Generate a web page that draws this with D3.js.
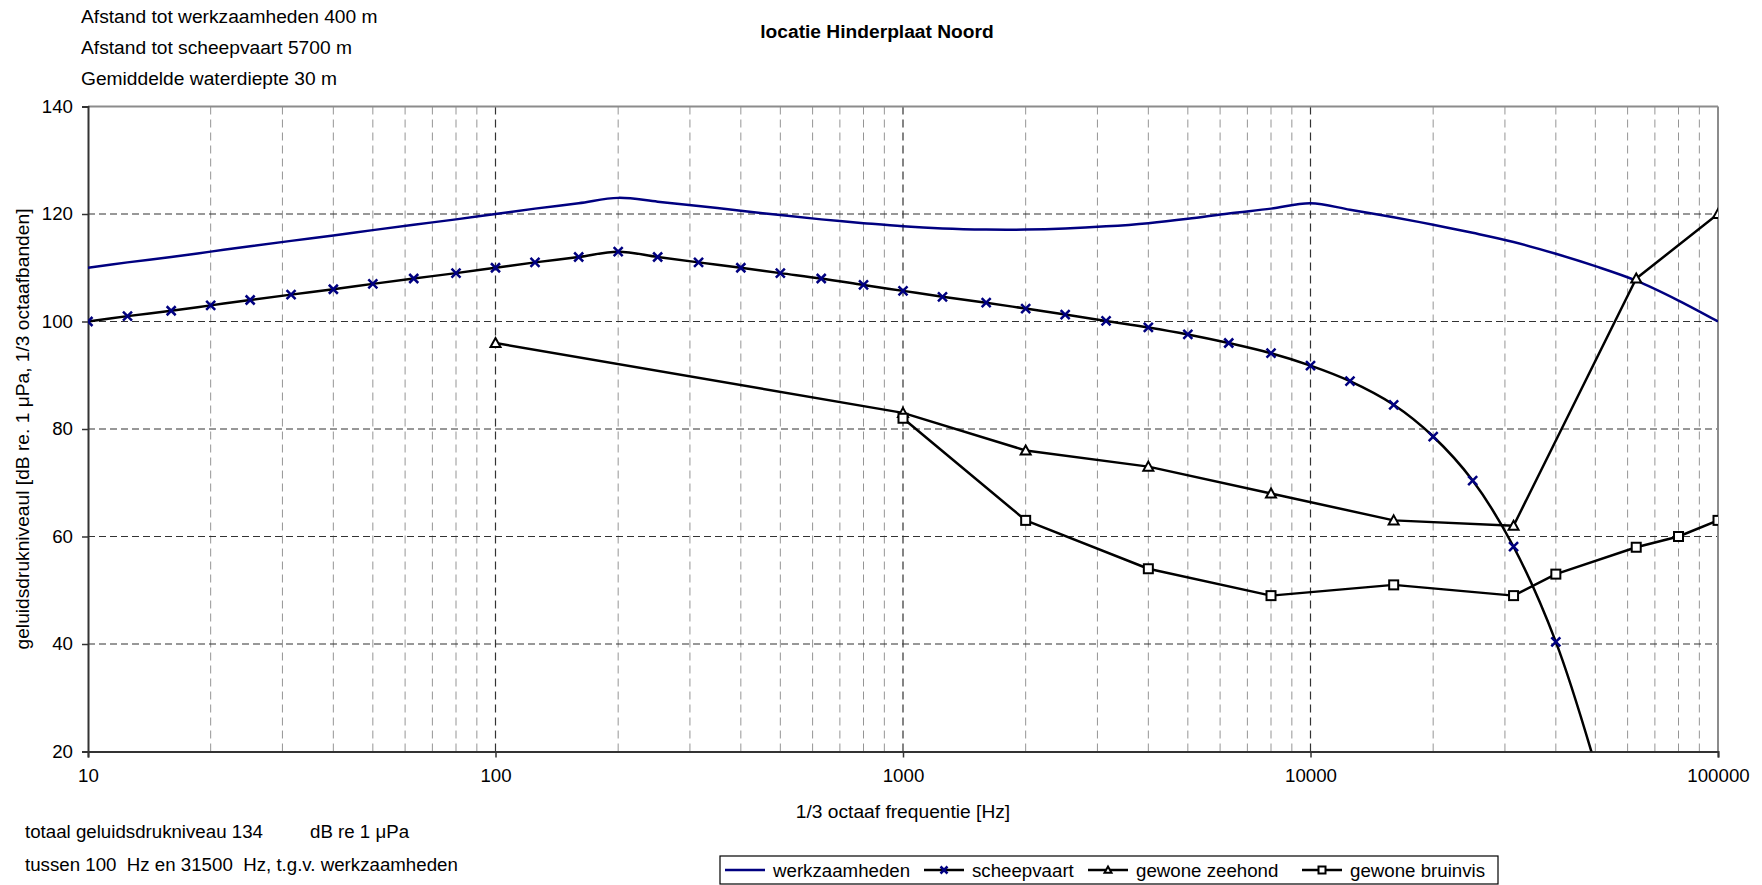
<!DOCTYPE html>
<html>
<head>
<meta charset="utf-8">
<script src="https://cdn.jsdelivr.net/npm/d3@7"></script>
<style>
  html, body { margin: 0; padding: 0; background: #fff; }
  svg { display: block; font-family: "Liberation Sans", Arial, sans-serif; }
  text { white-space: pre; }
</style>
</head>
<body>
<svg id="chart" width="1762" height="885"></svg>
<script>
// 1/3-octave band centre frequencies [Hz]
const bandFreqs = [10, 12.5, 16, 20, 25, 31.5, 40, 50, 63, 80,
  100, 125, 160, 200, 250, 315, 400, 500, 630, 800,
  1000, 1250, 1600, 2000, 2500, 3150, 4000, 5000, 6300, 8000,
  10000, 12500, 16000, 20000, 25000, 31500, 40000, 50000, 63000, 80000, 100000];

// sound pressure level of the works at 400 m [dB re 1 µPa]
const werkzaamheden = [110, 111, 112, 113, 114, 115, 116, 117, 118, 119,
  120, 121, 122, 123, 122.3, 121.5, 120.6, 119.8, 119.0, 118.3,
  117.7, 117.3, 117.1, 117.1, 117.3, 117.7, 118.3, 119.1, 120.1, 121.0,
  122.0, 120.8, 119.4, 118.0, 116.5, 114.8, 112.6, 110.3, 107.6, 103.9, 100];

// shipping noise at 5700 m
const scheepvaartFreqs = bandFreqs.slice(0, 38);
const scheepvaart = [100, 101, 102, 103, 104, 105, 106, 107, 108, 109,
  110, 111, 112, 113, 112, 111, 110, 109, 108, 106.8,
  105.7, 104.6, 103.5, 102.4, 101.3, 100.1, 98.9, 97.6, 96.0, 94.1,
  91.8, 88.9, 84.5, 78.6, 70.4, 58.1, 40.4, 17.5];

// hearing thresholds
const zeehondFreqs = [100, 1000, 2000, 4000, 8000, 16000, 31500, 63000, 100000];
const zeehond = [96, 83, 76, 73, 68, 63, 62, 108, 120];
const bruinvisFreqs = [1000, 2000, 4000, 8000, 16000, 31500, 40000, 63000, 80000, 100000];
const bruinvis = [82, 63, 54, 49, 51, 49, 53, 58, 60, 63];

const xTicks = [10, 100, 1000, 10000, 100000];
const yTicks = [20, 40, 60, 80, 100, 120, 140];

const seriesNames = ["werkzaamheden", "scheepvaart", "gewone zeehond", "gewone bruinvis"];

const TICK_FONT = 18.7;
const FONT = 19.2;
const NAVY = "#000080";

const svg = d3.select("#chart");
svg.append("rect").attr("width", 1762).attr("height", 885).attr("fill", "#fff");

const plot = { left: 88, right: 1718, top: 106.5, bottom: 751.5 };
const x = d3.scaleLog().domain([10, 100000]).range([plot.left, plot.right]);
const y = d3.scaleLinear().domain([20, 140]).range([plot.bottom, plot.top]);

// ---- gridlines ----
const grid = svg.append("g");
const minorX = [];
[10, 100, 1000, 10000].forEach(d => { for (let k = 2; k <= 9; k++) minorX.push(k * d); });
grid.selectAll(".minor").data(minorX).join("line")
  .attr("x1", d => x(d)).attr("x2", d => x(d))
  .attr("y1", plot.top).attr("y2", plot.bottom)
  .attr("stroke", "#959595").attr("stroke-width", 1).attr("stroke-dasharray", "8,5");
grid.selectAll(".majorx").data(xTicks.slice(1, -1)).join("line")
  .attr("x1", d => x(d)).attr("x2", d => x(d))
  .attr("y1", plot.top).attr("y2", plot.bottom)
  .attr("stroke", "#333").attr("stroke-width", 1.2).attr("stroke-dasharray", "8,5");
grid.selectAll(".majory").data(yTicks.slice(1, -1)).join("line")
  .attr("x1", plot.left).attr("x2", plot.right)
  .attr("y1", d => y(d)).attr("y2", d => y(d))
  .attr("stroke", "#333").attr("stroke-width", 1.2).attr("stroke-dasharray", "7,4");

// plot frame (top/right) in grey
svg.append("line").attr("x1", plot.left).attr("x2", plot.right).attr("y1", plot.top).attr("y2", plot.top)
  .attr("stroke", "#8c8c8c").attr("stroke-width", 2);
svg.append("line").attr("x1", plot.right).attr("x2", plot.right).attr("y1", plot.top).attr("y2", plot.bottom)
  .attr("stroke", "#8c8c8c").attr("stroke-width", 2);

// ---- axes ----
const yAxis = svg.append("g").attr("transform", `translate(${plot.left},0)`)
  .call(d3.axisLeft(y).tickValues(yTicks).tickFormat(d3.format("d")).tickSize(6).tickPadding(9));
const xAxis = svg.append("g").attr("transform", `translate(0,${plot.bottom})`)
  .call(d3.axisBottom(x).tickValues(xTicks).tickFormat(d3.format("d")).tickSize(6).tickPadding(11));
[yAxis, xAxis].forEach(a => {
  a.select(".domain").attr("stroke", "#333").attr("stroke-width", 2);
  a.selectAll(".tick line").attr("stroke", "#333").attr("stroke-width", 1.5);
  a.selectAll(".tick text").attr("fill", "#000")
    .style("font-family", '"Liberation Sans", Arial, sans-serif').style("font-size", TICK_FONT + "px");
});

// ---- series ----
svg.append("clipPath").attr("id", "plotClip").append("rect")
  .attr("x", plot.left).attr("y", plot.top)
  .attr("width", plot.right - plot.left).attr("height", plot.bottom - plot.top);
const layer = svg.append("g").attr("clip-path", "url(#plotClip)");

const toPts = (fs, vs) => fs.map((f, i) => [f, vs[i]]);
const smooth = d3.line().x(d => x(d[0])).y(d => y(d[1])).curve(d3.curveCatmullRom.alpha(0.5));
const straight = d3.line().x(d => x(d[0])).y(d => y(d[1]));

const bruinvisPts = toPts(bruinvisFreqs, bruinvis);
const zeehondPts = toPts(zeehondFreqs, zeehond);
const scheepPts = toPts(scheepvaartFreqs, scheepvaart);
const werkPts = toPts(bandFreqs, werkzaamheden);

layer.append("path").attr("d", straight(bruinvisPts)).attr("fill", "none")
  .attr("stroke", "#000").attr("stroke-width", 2.5).attr("stroke-linejoin", "round");
layer.append("path").attr("d", straight(zeehondPts)).attr("fill", "none")
  .attr("stroke", "#000").attr("stroke-width", 2.5).attr("stroke-linejoin", "round");
layer.append("path").attr("d", smooth(scheepPts)).attr("fill", "none")
  .attr("stroke", "#000").attr("stroke-width", 2.5);
layer.append("path").attr("d", smooth(werkPts)).attr("fill", "none")
  .attr("stroke", NAVY).attr("stroke-width", 2.5);

// marker shapes
function cross(g, cx, cy, r) {
  g.append("path").attr("d", `M${cx - r},${cy - r}L${cx + r},${cy + r}M${cx - r},${cy + r}L${cx + r},${cy - r}`)
    .attr("stroke", NAVY).attr("stroke-width", 2.5).attr("fill", "none");
}
function tri(g, cx, cy, r) {
  g.append("path").attr("d", `M${cx},${cy - r}L${cx + r},${cy + r * 0.8}L${cx - r},${cy + r * 0.8}Z`)
    .attr("stroke", "#000").attr("stroke-width", 2).attr("fill", "#fff");
}
function square(g, cx, cy, r) {
  g.append("rect").attr("x", cx - r).attr("y", cy - r).attr("width", 2 * r).attr("height", 2 * r)
    .attr("stroke", "#000").attr("stroke-width", 2).attr("fill", "#fff");
}
const mk = layer.append("g");
zeehondPts.forEach(d => tri(mk, x(d[0]), y(d[1]), 5));
bruinvisPts.forEach(d => square(mk, x(d[0]), y(d[1]), 4.5));
scheepPts.forEach(d => cross(mk, x(d[0]), y(d[1]), 4.5));

// ---- texts ----
function txt(tx, ty, s, opts = {}) {
  const t = svg.append("text").attr("x", tx).attr("y", ty).text(s)
    .attr("font-size", opts.size || FONT).attr("fill", "#000");
  if (opts.anchor) t.attr("text-anchor", opts.anchor);
  if (opts.bold) t.attr("font-weight", "bold");
  return t;
}
txt(81, 23, "Afstand tot werkzaamheden 400 m");
txt(81, 54, "Afstand tot scheepvaart 5700 m");
txt(81, 85, "Gemiddelde waterdiepte 30 m");
txt(877, 38, "locatie Hinderplaat Noord", { anchor: "middle", bold: true });
txt((plot.left + plot.right) / 2, 818, "1/3 octaaf frequentie [Hz]", { anchor: "middle" });
svg.append("text").attr("transform", `translate(29,${(plot.top + plot.bottom) / 2}) rotate(-90)`)
  .attr("text-anchor", "middle").attr("font-size", FONT).attr("fill", "#000")
  .text("geluidsdrukniveaul [dB re. 1 μPa, 1/3 octaafbanden]");
txt(25, 838, "totaal geluidsdrukniveau 134", { size: TICK_FONT });
txt(310, 838, "dB re 1 μPa", { size: TICK_FONT });
txt(25, 871, "tussen 100  Hz en 31500  Hz, t.g.v. werkzaamheden", { size: TICK_FONT });

// ---- legend ----
const leg = svg.append("g");
leg.append("rect").attr("x", 720).attr("y", 856).attr("width", 778).attr("height", 28)
  .attr("fill", "#fff").attr("stroke", "#000").attr("stroke-width", 1.2);
const legStarts = [725, 924, 1088, 1302];
const ly = 870;
seriesNames.forEach((name, i) => {
  const lx = legStarts[i];
  leg.append("line").attr("x1", lx).attr("x2", lx + 40).attr("y1", ly).attr("y2", ly)
    .attr("stroke", i === 0 ? NAVY : "#000").attr("stroke-width", 2.5);
  const cx = lx + 20;
  if (i === 1) cross(leg, cx, ly, 3.5);
  if (i === 2) tri(leg, cx, ly, 3.5);
  if (i === 3) square(leg, cx, ly, 3.5);
  leg.append("text").attr("x", lx + 48).attr("y", ly + 6.5)
    .attr("font-size", TICK_FONT).attr("fill", "#000").text(name);
});
</script>
</body>
</html>
